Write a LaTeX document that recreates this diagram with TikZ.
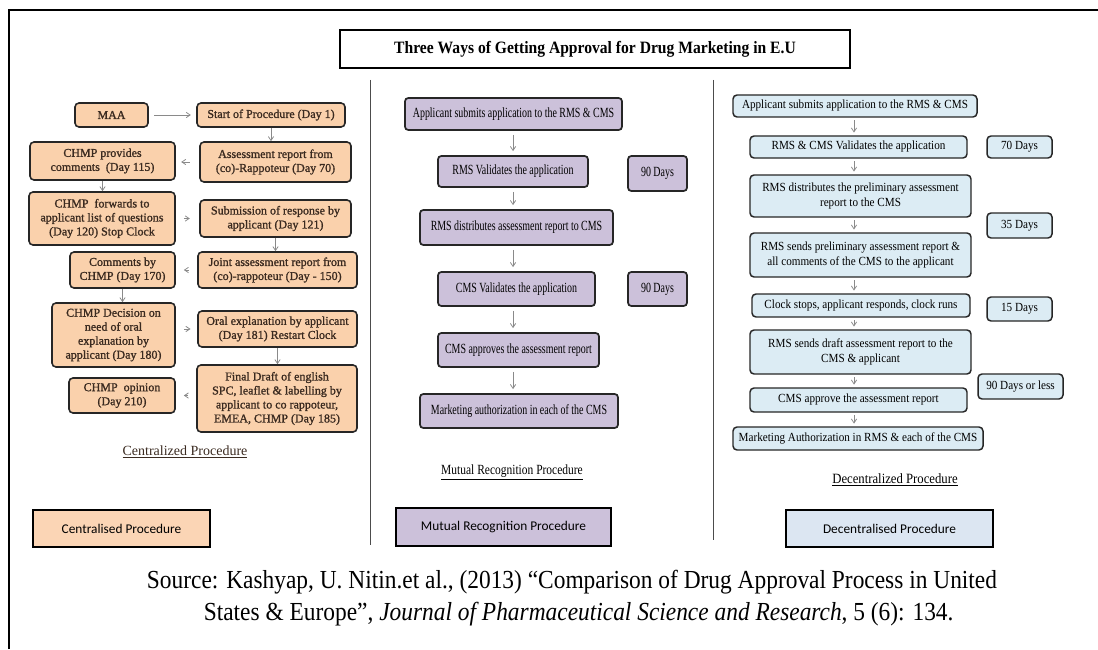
\documentclass[tikz,border=0pt]{standalone}
\usepackage{fontspec}
\setmainfont{Liberation Serif}
\newfontfamily\ccserif{Liberation Serif}[FakeBold=1.2]
\newfontfamily\cserif{Liberation Serif}[FakeStretch=0.71]
\newfontfamily\mcapserif{Liberation Serif}[FakeStretch=0.82]
\newfontfamily\dserif{Liberation Serif}[FakeStretch=0.9]
\newfontfamily\sserif{Liberation Serif}[FakeStretch=0.9]
\newfontfamily\calib{Carlito}
\usetikzlibrary{arrows.meta}
\definecolor{orfill}{HTML}{FAD1AC}
\definecolor{orleg}{HTML}{FBD5B5}
\definecolor{pufill}{HTML}{CCC1DA}
\definecolor{blfill}{HTML}{DCECF4}
\definecolor{blleg}{HTML}{DCE6F2}
\definecolor{arrgray}{HTML}{8A8A8A}
\definecolor{ctext}{HTML}{3A2A20}
\newcommand\bx[7]{\node[#7, minimum width={(#4-#2)*0.75pt}, minimum height={(#5-#3)*0.75pt}] (#1) at ({(#2+#4)/2},{(#3+#5)/2}) {#6};}
\begin{document}
\begin{tikzpicture}[x=0.75pt,y=-0.75pt,
  cbox/.style={draw=black!85, line width=1.2pt, rounded corners=3pt, fill=orfill, align=center, inner sep=0pt, text=ctext, font=\ccserif\fontsize{9}{10.5}\selectfont},
  mbox/.style={draw=black!85, line width=1.3pt, rounded corners=2.5pt, fill=pufill, align=center, inner sep=0pt, font=\cserif\fontsize{10.5}{12}\selectfont},
  dbox/.style={draw=black!85, line width=1.1pt, rounded corners=3pt, fill=blfill, align=center, inner sep=0pt, font=\dserif\fontsize{9.3}{11.2}\selectfont},
  legbox/.style={draw=black, line width=1.3pt, inner sep=0pt, font=\calib\fontsize{10}{12}\selectfont},
  arr/.style={draw=arrgray, line width=0.6pt, -{Straight Barb[length=3pt,width=4pt]}},
  caption/.style={inner sep=0pt},
  sepline/.style={draw=black!70, line width=0.5pt}
]
\useasboundingbox (0,0) rectangle (1098,649);
% frame
\coordinate (fbl) at (9,649);
\coordinate (ftl) at (9,10);
\coordinate (ftr) at (1098,10);
\draw[line width=1.3pt] (fbl) -- (ftl) -- (ftr);
% title
\bx{title}{340}{30}{850}{68}{Three Ways of Getting Approval for Drug Marketing in E.U}{draw=black, line width=1.4pt, inner sep=0pt, font=\sserif\bfseries\fontsize{13}{15}\selectfont}
% separators
\coordinate (s1t) at (370,80); \coordinate (s1b) at (370,545);
\coordinate (s2t) at (713,80); \coordinate (s2b) at (713,540);
\draw[sepline] (s1t) -- (s1b);
\draw[sepline] (s2t) -- (s2b);

% ---------- Centralized ----------
\bx{maa}{75}{103}{148}{127}{MAA}{cbox}
\bx{start}{197}{103}{345}{127}{Start of Procedure (Day 1)}{cbox}
\bx{prov}{30}{142}{175}{180}{CHMP provides\\comments\enspace(Day 115)}{cbox}
\bx{assess}{200}{142}{351}{182}{Assessment report from\\(co)-Rappoteur (Day 70)}{cbox}
\bx{fwd}{29}{192}{175}{245}{CHMP\enspace forwards to\\applicant list of questions\\(Day 120) Stop Clock}{cbox}
\bx{subm}{200}{200}{351}{237}{Submission of response by\\applicant (Day 121)}{cbox}
\bx{comm}{70}{252}{175}{288}{Comments by\\CHMP (Day 170)}{cbox}
\bx{joint}{198}{252}{357}{288}{Joint assessment report from\\(co)-rappoteur (Day - 150)}{cbox}
\bx{dec}{52}{303}{175}{367}{CHMP Decision on\\need of oral\\explanation by\\applicant (Day 180)}{cbox}
\bx{oral}{198}{311}{357}{347}{Oral explanation by applicant\\(Day 181) Restart Clock}{cbox}
\bx{opin}{69}{378}{175}{413}{CHMP\enspace opinion\\(Day 210)}{cbox}
\bx{final}{197}{365}{357}{432}{Final Draft of english\\SPC, leaflet \& labelling by\\applicant to co rappoteur,\\EMEA, CHMP (Day 185)}{cbox}
\node[caption, text=ctext, font=\fontsize{10.5}{12}\selectfont] (ccap) at (185,452) {\underline{Centralized Procedure}};

\draw[arr, shorten <=4pt, shorten >=4pt] (maa.east) -- (start.west);
\draw[arr] (start.south) -- (start.south |- assess.north);
\draw[arr, shorten <=7pt, shorten >=4pt] (assess.west) -- (assess.west -| prov.east);
\draw[arr] (prov.south) -- (prov.south |- fwd.north);
\draw[arr, shorten <=6pt, shorten >=7pt] (fwd.east |- subm.west) -- (subm.west);
\draw[arr] (subm.south) -- (subm.south |- joint.north);
\draw[arr, shorten <=6pt, shorten >=6pt] (joint.west) -- (joint.west -| comm.east);
\draw[arr] (comm.south) -- (comm.south |- dec.north);
\draw[arr, shorten <=6pt, shorten >=5pt] (dec.east |- oral.west) -- (oral.west);
\draw[arr] (oral.south) -- (oral.south |- final.north);
\draw[arr, shorten <=6pt, shorten >=6pt] (final.west |- opin.east) -- (opin.east);

% ---------- Mutual Recognition ----------
\bx{m1}{405}{98}{622}{130}{Applicant submits application to the RMS \& CMS}{mbox}
\bx{m2}{438}{156}{588}{187}{RMS Validates the application}{mbox}
\bx{m2d}{628}{156}{687}{191}{90 Days}{mbox}
\bx{m3}{420}{210}{613}{245}{RMS distributes assessment report to CMS}{mbox}
\bx{m4}{438}{272}{595}{306}{CMS Validates the application}{mbox}
\bx{m4d}{628}{272}{687}{306}{90 Days}{mbox}
\bx{m5}{438}{333}{599}{367}{CMS approves the assessment report}{mbox}
\bx{m6}{420}{394}{618}{428}{Marketing authorization in each of the CMS}{mbox}
\node[caption, font=\mcapserif\fontsize{10.5}{12}\selectfont] (mcap) at (512,472) {\underline{Mutual Recognition Procedure}};
\coordinate (mx) at (513,0);
\draw[arr, shorten <=3pt, shorten >=3pt] (m1.south -| mx) -- (m2.north -| mx);
\draw[arr, shorten <=3pt, shorten >=3pt] (m2.south -| mx) -- (m3.north -| mx);
\draw[arr, shorten <=3pt, shorten >=3pt] (m3.south -| mx) -- (m4.north -| mx);
\draw[arr, shorten <=3pt, shorten >=3pt] (m4.south -| mx) -- (m5.north -| mx);
\draw[arr, shorten <=3pt, shorten >=3pt] (m5.south -| mx) -- (m6.north -| mx);

% ---------- Decentralized ----------
\bx{d1}{733}{95}{977}{117}{Applicant submits application to the RMS \& CMS}{dbox}
\bx{d2}{750}{136}{967}{158}{RMS \& CMS Validates the application}{dbox}
\bx{d2d}{987}{136}{1052}{158}{70 Days}{dbox}
\bx{d3}{750}{175}{971}{217}{RMS distributes the preliminary assessment\\report to the CMS}{dbox}
\bx{d3d}{987}{213}{1052}{238}{35 Days}{dbox}
\bx{d4}{750}{233}{971}{277}{RMS sends preliminary assessment report \&\\all comments of the CMS to the applicant}{dbox}
\bx{d5}{752}{294}{970}{317}{Clock stops, applicant responds, clock runs}{dbox}
\bx{d5d}{987}{297}{1052}{321}{15 Days}{dbox}
\bx{d6}{750}{330}{971}{374}{RMS sends draft assessment report to the\\CMS \& applicant}{dbox}
\bx{d6d}{978}{374}{1063}{399}{90 Days or less}{dbox}
\bx{d7}{750}{388}{967}{412}{CMS approve the assessment report}{dbox}
\bx{d8}{733}{427}{983}{450}{Marketing Authorization in RMS \& each of the CMS}{dbox}
\node[caption, font=\dserif\fontsize{10.6}{12}\selectfont] (dcap) at (895,480) {\underline{Decentralized Procedure}};
\coordinate (dx) at (854,0);
\draw[arr, shorten <=2pt, shorten >=2pt] (d1.south -| dx) -- (d2.north -| dx);
\draw[arr, shorten <=2pt, shorten >=2pt] (d2.south -| dx) -- (d3.north -| dx);
\draw[arr, shorten <=2pt, shorten >=2pt] (d3.south -| dx) -- (d4.north -| dx);
\draw[arr, shorten <=2pt, shorten >=2pt] (d4.south -| dx) -- (d5.north -| dx);
\draw[arr, shorten <=2pt, shorten >=2pt] (d5.south -| dx) -- (d6.north -| dx);
\draw[arr, shorten <=2pt, shorten >=2pt] (d6.south -| dx) -- (d7.north -| dx);
\draw[arr, shorten <=2pt, shorten >=2pt] (d7.south -| dx) -- (d8.north -| dx);

% ---------- Legend ----------
\bx{lc}{33}{510}{210}{547}{Centralised Procedure}{legbox, fill=orleg}
\bx{lm}{396}{508}{611}{546}{Mutual Recognition Procedure}{legbox, fill=pufill}
\bx{ld}{786}{510}{993}{547}{Decentralised Procedure}{legbox, fill=blleg}

% ---------- Source ----------
\node[align=center, inner sep=0pt, font=\sserif\fontsize{19.5}{24}\selectfont] (src) at (572,598)
 {Source: Kashyap, U. Nitin.et al., (2013) “Comparison of Drug Approval Process in United\\
  \hspace*{10pt}States \& Europe”, \textit{Journal of Pharmaceutical Science and Research}, 5 (6): 134.};
\end{tikzpicture}
\end{document}
